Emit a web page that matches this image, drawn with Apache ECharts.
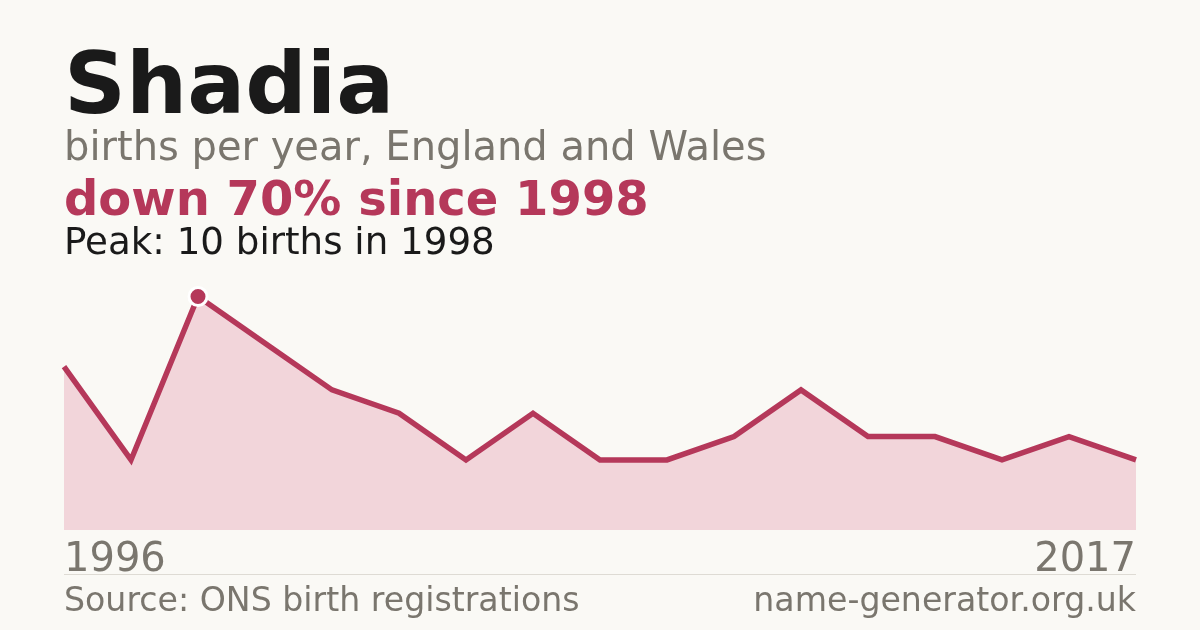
<!DOCTYPE html>
<html>
<head>
<meta charset="utf-8">
<script src="https://cdn.jsdelivr.net/npm/echarts@6/dist/echarts.min.js"></script>
<style>
html,body{margin:0;padding:0;background:#faf9f5;}
#c{width:1200px;height:630px;}
</style>
</head>
<body>
<div id="c"></div>
<script>
const years = ['1996','1997','1998','1999','2000','2002','2003','2004','2006','2007','2008','2010','2011','2013','2014','2016','2017'];
const births = [7,3,10,8,6,5,3,5,3,3,4,6,4,4,3,4,3];
const titleText = 'Shadia';
const subtitleText = 'births per year, England and Wales';
const changeText = 'down 70% since 1998';
const peakText = 'Peak: 10 births in 1998';
const sourceText = 'Source: ONS birth registrations';
const siteText = 'name-generator.org.uk';

const RED = '#b5385a';
const GRAY = '#7a766e';
const FONT = 'DejaVu Sans';
const last = years.length - 1;

const chart = echarts.init(document.getElementById('c'), null, {renderer:'canvas'});
chart.setOption({
  backgroundColor: '#faf9f5',
  animation: false,
  textStyle: {fontFamily: FONT},
  title: [
    {text: titleText, left: 64, top: 48, padding: 0, textStyle: {fontFamily: FONT, fontSize: 86, fontWeight: 'bold', color: '#1a1a1a'}},
    {text: subtitleText, left: 64, top: 130, padding: 0, textStyle: {fontFamily: FONT, fontSize: 40, fontWeight: 'normal', color: GRAY}},
    {text: changeText, left: 64, top: 179, padding: 0, textStyle: {fontFamily: FONT, fontSize: 48, fontWeight: 'bold', color: RED}},
    {text: peakText, left: 64, top: 226, padding: 0, textStyle: {fontFamily: FONT, fontSize: 37.2, fontWeight: 'normal', color: '#1a1a1a'}},
    {text: sourceText, left: 64, top: 586, padding: 0, textStyle: {fontFamily: FONT, fontSize: 33.2, fontWeight: 'normal', color: GRAY}},
    {text: siteText, right: 64, top: 586, padding: 0, textStyle: {fontFamily: FONT, fontSize: 33.2, fontWeight: 'normal', color: GRAY}}
  ],
  graphic: [
    {type: 'line', shape: {x1: 64, y1: 574.5, x2: 1136, y2: 574.5}, style: {stroke: '#dedbd4', lineWidth: 1}}
  ],
  grid: {left: 64, right: 64, top: 296.5, bottom: 100, containLabel: false},
  xAxis: {
    type: 'category',
    data: years,
    boundaryGap: false,
    axisLine: {show: false},
    axisTick: {show: false},
    splitLine: {show: false},
    axisLabel: {
      interval: function (i) { return i === 0 || i === last; },
      showMinLabel: true,
      showMaxLabel: true,
      alignMinLabel: 'left',
      alignMaxLabel: 'right',
      margin: 11,
      fontFamily: FONT,
      fontSize: 40,
      color: GRAY
    }
  },
  yAxis: {type: 'value', min: 0, max: 10, show: false, splitLine: {show: false}},
  series: [{
    type: 'line',
    data: births,
    symbol: 'none',
    lineStyle: {color: RED, width: 5.5, cap: 'butt', join: 'miter'},
    areaStyle: {color: '#f2d5da', opacity: 1},
    markPoint: {
      symbol: 'circle',
      symbolSize: 18,
      data: [{type: 'max'}],
      label: {show: false},
      itemStyle: {color: RED, borderColor: '#ffffff', borderWidth: 3}
    }
  }]
});
</script>
</body>
</html>
